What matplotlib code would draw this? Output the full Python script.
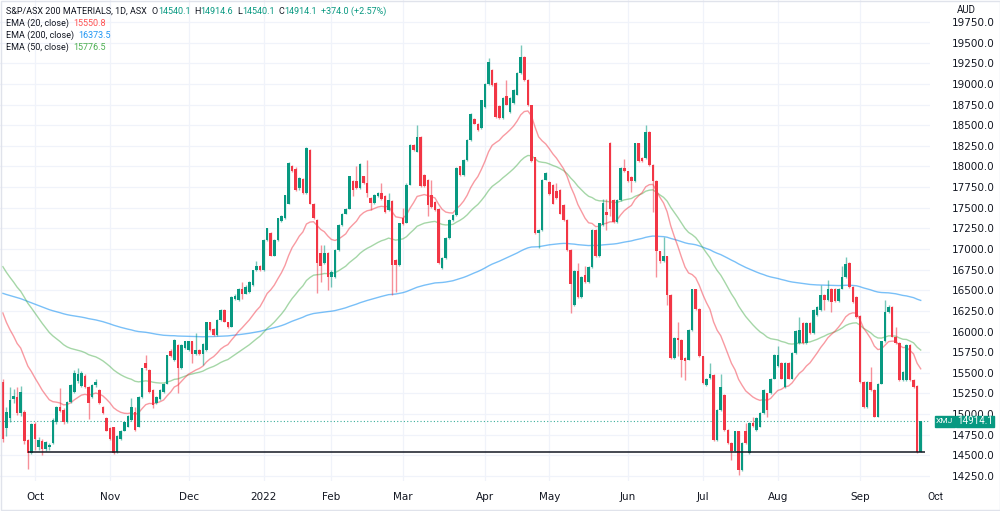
import numpy as np
import pandas as pd
import matplotlib
matplotlib.use("Agg")
import matplotlib.pyplot as plt
from matplotlib.patches import Rectangle
from matplotlib.transforms import blended_transform_factory

# --- Data: S&P/ASX 200 Materials (XMJ), daily, 20 Sep 2021 - 27 Sep 2022 ---
asx_holidays = ["2021-12-27", "2021-12-28", "2022-01-03", "2022-01-26", "2022-04-15",
                "2022-04-18", "2022-04-25", "2022-06-13", "2022-09-22"]
dates = pd.bdate_range("2021-09-20", "2022-09-27")
dates = dates[~dates.isin(pd.to_datetime(asx_holidays))]

opens = [
    15390, 14830, 14950, 15180, 15210, 15010, 15030, 14690, 14530, 14880,
    14600, 14680, 14580, 14600, 14650, 14900, 15090, 15050, 14900, 15150,
    15270, 15400, 15340, 15460, 15330, 15210, 15350, 15290, 15090, 14950,
    14830, 14840, 14540, 14700, 14800, 14850, 14930, 15030, 14850, 15210,
    15620, 15540, 15290, 15130, 15180, 15270, 15370, 15760, 15650, 15840,
    15560, 15800, 15780, 15880, 15730, 15780, 15730, 15780, 16110, 16030,
    15960, 16140, 16260, 16110, 16060, 16390, 16380, 16520, 16460, 16480,
    16560, 16740, 16800, 16740, 17110, 17190, 16920, 17110, 17340, 17370,
    17550, 18010, 17970, 17735, 17850, 17680, 18200, 17550, 17350, 16950,
    16830, 16950, 16660, 16660, 16990, 17290, 17430, 17490, 17820, 17820,
    17740, 17880, 17800, 17620, 17560, 17640, 17680, 17640, 17470, 17580,
    16870, 16810, 17380, 17320, 17780, 18260, 18180, 18360, 17900, 17840,
    17650, 17570, 17490, 16770, 16890, 17130, 17350, 17410, 18000, 17900,
    18080, 18320, 18580, 18520, 18460, 18720, 19000, 19170, 19010, 18730,
    18590, 18850, 18660, 18770, 18870, 19130, 19330, 19050, 18740, 18110,
    17190, 17230, 17840, 17810, 17780, 17700, 17720, 17530, 17350, 16990,
    16320, 16730, 16420, 16680, 16600, 16780, 17230, 16910, 17290, 17450,
    18290, 17590, 17330, 17590, 17980, 17940, 17870, 17820, 18280, 18100,
    18100, 18420, 18020, 17820, 16970, 16850, 16910, 16440, 15680, 15920,
    15900, 15680, 15660, 16020, 16510, 16270, 15700, 15350, 15440, 15470,
    14690, 15050, 15230, 14810, 14650, 14550, 14790, 14320, 14800, 14530,
    14890, 14810, 14850, 15010, 15250, 15250, 15430, 15580, 15620, 15330,
    15620, 15430, 15740, 15860, 16100, 15860, 16100, 15980, 16200, 16260,
    16440, 16380, 16520, 16520, 16370, 16520, 16660, 16830, 16540, 16420,
    16190, 15390, 15090, 15390, 15290, 14970, 15370, 15880, 16240, 16300,
    15940, 15860, 15410, 15410, 15840, 15410, 15340, 14540.1,
]
highs = [
    15420, 15090, 15330, 15300, 15330, 15340, 15050, 14700, 14890, 14900,
    14720, 14700, 14680, 14650, 14950, 15100, 15320, 15070, 15160, 15360,
    15540, 15560, 15520, 15480, 15340, 15370, 15420, 15300, 15100, 14960,
    14840, 14850, 14750, 14810, 14910, 14990, 15190, 15090, 15220, 15560,
    15720, 15550, 15300, 15220, 15300, 15380, 15720, 15790, 15910, 15850,
    15850, 15890, 15890, 15890, 15980, 15790, 15860, 16120, 16120, 16040,
    16150, 16270, 16270, 16120, 16430, 16460, 16530, 16600, 16570, 16610,
    16750, 16860, 16810, 17120, 17260, 17200, 17120, 17380, 17410, 17660,
    18050, 18020, 17990, 17870, 17860, 18240, 18210, 17560, 17360, 17050,
    17050, 16960, 16740, 17000, 17300, 17440, 17500, 17890, 17830, 18010,
    18040, 17890, 18080, 17630, 17670, 17690, 17800, 17650, 17680, 17590,
    16880, 17320, 17500, 17800, 18270, 18270, 18500, 18370, 17910, 17850,
    17840, 17580, 17500, 16900, 17140, 17360, 17420, 17990, 18010, 18090,
    18330, 18650, 18590, 18530, 18810, 19010, 19310, 19180, 19020, 18740,
    18840, 19050, 18840, 18940, 19140, 19470, 19340, 19060, 18750, 18120,
    17240, 17850, 17930, 17820, 17790, 17800, 17730, 17540, 17360, 17000,
    16740, 16830, 16670, 16800, 16790, 17240, 17240, 17320, 17600, 17600,
    18300, 17600, 17600, 17990, 18090, 17950, 17880, 18290, 18290, 18110,
    18500, 18430, 18030, 17830, 16980, 17150, 16920, 16450, 15930, 16120,
    15910, 15690, 16030, 16520, 16520, 16280, 15710, 15440, 15620, 15480,
    15060, 15490, 15240, 14820, 14660, 14800, 14800, 14660, 14890, 14900,
    14960, 14960, 15020, 15300, 15260, 15440, 15730, 15820, 15630, 15630,
    15630, 15750, 16020, 16180, 16110, 16110, 16110, 16270, 16310, 16560,
    16450, 16620, 16530, 16530, 16530, 16790, 16900, 16840, 16550, 16430,
    16200, 15400, 15400, 15570, 15300, 15380, 15890, 16380, 16320, 16310,
    16060, 15870, 15520, 15850, 15850, 15420, 15350, 14914.6,
]
lows = [
    14660, 14740, 14900, 15130, 14990, 14980, 14640, 14330, 14520, 14560,
    14560, 14500, 14550, 14560, 14640, 14880, 15030, 14880, 14890, 15140,
    15260, 15380, 15330, 15320, 14940, 15200, 15330, 15120, 15000, 14790,
    14690, 14520, 14530, 14690, 14790, 14840, 14920, 14800, 14840, 15200,
    15540, 15260, 15080, 15120, 15170, 15260, 15360, 15690, 15640, 15250,
    15550, 15790, 15770, 15620, 15720, 15720, 15600, 15770, 16010, 15950,
    15950, 16130, 16110, 16040, 16050, 16380, 16370, 16400, 16450, 16470,
    16550, 16730, 16730, 16730, 17100, 16910, 16910, 17100, 17330, 17360,
    17540, 17930, 17700, 17720, 17670, 17670, 17540, 17360, 16470, 16600,
    16820, 16500, 16540, 16650, 16980, 17280, 17420, 17480, 17640, 17730,
    17730, 17790, 17630, 17470, 17550, 17630, 17590, 17440, 17460, 16440,
    16480, 16800, 17290, 17310, 17770, 18190, 18170, 17750, 17750, 17400,
    17500, 17460, 16820, 16760, 16880, 17120, 17340, 17400, 17890, 17890,
    18070, 18310, 18510, 18430, 18450, 18710, 18990, 18980, 18590, 18580,
    18580, 18740, 18650, 18760, 18860, 19120, 19040, 18730, 18050, 17180,
    17010, 17220, 17830, 17660, 17540, 17610, 17420, 17340, 16980, 16220,
    16310, 16410, 16410, 16590, 16590, 16770, 16900, 16900, 17280, 17230,
    17400, 17320, 17320, 17580, 17930, 17810, 17690, 17810, 18050, 18050,
    18090, 18010, 17450, 16660, 16830, 16840, 16320, 15670, 15670, 15700,
    15450, 15410, 15650, 16010, 16260, 15690, 15370, 15340, 15430, 14680,
    14680, 15040, 14800, 14640, 14440, 14540, 14260, 14310, 14640, 14520,
    14850, 14800, 14840, 15000, 14970, 15240, 15420, 15570, 15420, 15320,
    15420, 15420, 15730, 15850, 15850, 15850, 15970, 15970, 16190, 16250,
    16260, 16370, 16240, 16360, 16360, 16510, 16650, 16530, 16350, 16170,
    15380, 15080, 15080, 15280, 14960, 14960, 15360, 15870, 16230, 15930,
    15850, 15400, 15400, 15400, 15400, 15320, 14530, 14540.1,
]
closes = [
    14700, 15030, 15170, 15215, 15010, 15270, 14670, 14530, 14880, 14700,
    14690, 14580, 14660, 14630, 14930, 15090, 15040, 14900, 15150, 15350,
    15500, 15480, 15500, 15330, 15130, 15350, 15390, 15130, 15010, 14800,
    14700, 14530, 14740, 14800, 14900, 14980, 15090, 14810, 15210, 15555,
    15560, 15270, 15110, 15210, 15290, 15370, 15716, 15700, 15900, 15560,
    15840, 15880, 15880, 15730, 15780, 15730, 15850, 16110, 16020, 15960,
    16140, 16260, 16120, 16050, 16420, 16430, 16520, 16460, 16540, 16600,
    16740, 16800, 16740, 17110, 17250, 16920, 17110, 17370, 17400, 17650,
    18040, 17940, 17710, 17855, 17680, 18220, 17550, 17370, 16830, 16800,
    16950, 16660, 16720, 16990, 17290, 17430, 17490, 17880, 17720, 17740,
    18030, 17800, 17680, 17560, 17660, 17680, 17600, 17450, 17590, 16810,
    16810, 17310, 17300, 17780, 18260, 18200, 18360, 17760, 17760, 17530,
    17510, 17470, 16830, 16890, 17130, 17350, 17410, 17980, 17900, 18080,
    18320, 18640, 18520, 18440, 18800, 19000, 19260, 18990, 18600, 18590,
    18830, 18750, 18830, 18930, 19130, 19330, 19050, 18740, 18060, 17190,
    17230, 17840, 17920, 17670, 17550, 17620, 17430, 17350, 16990, 16580,
    16730, 16420, 16660, 16600, 16780, 17230, 16910, 17310, 17560, 17410,
    17490, 17330, 17590, 17980, 17940, 17820, 17820, 18280, 18060, 18060,
    18420, 18020, 17820, 16970, 16850, 16920, 16440, 15680, 15920, 15900,
    15660, 15640, 16020, 16510, 16270, 15700, 15380, 15430, 15480, 14690,
    15050, 15330, 14810, 14650, 14550, 14790, 14320, 14650, 14650, 14890,
    14860, 14950, 15010, 15290, 15050, 15430, 15720, 15720, 15430, 15620,
    15430, 15740, 16010, 16020, 15860, 16100, 15980, 16260, 16300, 16440,
    16380, 16520, 16360, 16370, 16520, 16660, 16820, 16540, 16360, 16180,
    15390, 15090, 15390, 15290, 14970, 15370, 15880, 16240, 16300, 15940,
    15860, 15410, 15510, 15840, 15410, 15330, 14540, 14914.1,
]

# EMA values at the left edge of the view (history before 20 Sep 2021)
ema_seeds = {20: 16225, 50: 16786, 200: 16463}
legend_ema = [("EMA (20, close)", "15550.8", "#ff5252"),
              ("EMA (200, close)", "16373.5", "#2196f3"),
              ("EMA (50, close)", "15776.5", "#4caf50")]
support_level = 14540
last_close = 14914.1

UP = "#089981"
DOWN = "#f23645"
TEXT = "#131722"
GRID = "#f0f3fa"


def ema(values, span, seed):
    alpha = 2.0 / (span + 1)
    out = [seed]
    for v in values[1:]:
        out.append(alpha * v + (1 - alpha) * out[-1])
    return np.array(out)


o = np.array(opens)
h = np.array(highs)
l = np.array(lows)
c = np.array(closes)
assert len(dates) == len(c)
idx = np.arange(len(c))

fig = plt.figure(figsize=(10, 5.11), dpi=100)
ax = fig.add_axes([0, 30 / 511, 0.93, 481 / 511])
plt.rcParams["font.family"] = ["Roboto", "DejaVu Sans"]

# grid
month_pos = [i for i in range(1, len(dates)) if dates[i].month != dates[i - 1].month]
month_lbl = ["2022" if dates[i].month == 1 else dates[i].strftime("%b") for i in month_pos]
for p in month_pos + [len(c) + 3]:
    ax.axvline(p, color=GRID, lw=0.9, zorder=0)
yticks = np.arange(14250, 19751, 250)
for y in yticks:
    ax.axhline(y, color=GRID, lw=0.9, zorder=0)

# EMAs
ax.plot(idx, ema(c, 200, ema_seeds[200]), color="#2196f3", alpha=0.6, lw=1.0, zorder=2)
ax.plot(idx, ema(c, 50, ema_seeds[50]), color="#4caf50", alpha=0.5, lw=1.0, zorder=2)
ax.plot(idx, ema(c, 20, ema_seeds[20]), color="#f23645", alpha=0.5, lw=1.0, zorder=2)

# candles
colors = np.where(c >= o, UP, DOWN)
ax.vlines(idx, l, h, colors=colors, lw=1.0, alpha=0.55, zorder=3)
body_lo = np.minimum(o, c)
body_h = np.maximum(np.abs(c - o), 12)
ax.bar(idx, body_h, bottom=body_lo, width=0.7, color=colors, lw=0, zorder=4)

# horizontal line at the low + last price line
ax.hlines(support_level, 7.1, 258.2, color=TEXT, lw=1.1, zorder=5)
ax.axhline(last_close, color=UP, lw=0.8, ls=(0, (1, 2)), alpha=0.8, zorder=1)

ax.set_xlim(-0.8, 259.6)
ax.set_ylim(14190, 20016)
for s in ax.spines.values():
    s.set_visible(False)

ax.yaxis.tick_right()
ax.set_yticks(yticks)
ax.set_yticklabels([f"{v:.1f}" for v in yticks])
ax.tick_params(axis="y", length=0, pad=16, labelsize=7.5, labelcolor=TEXT)
ax.set_xticks(month_pos)
ax.set_xticklabels(month_lbl)
ax.tick_params(axis="x", length=0, pad=8, labelsize=7.5, labelcolor=TEXT)
ax.grid(False)

# Oct 2022 label sits under the price scale
fig.text(935 / 1000, 1 - 497 / 511, "Oct", ha="center", va="center", fontsize=7.5, color=TEXT)
fig.text(957 / 1000, 1 - 10 / 511, "AUD", ha="left", va="center", fontsize=7, color=TEXT)

# price label boxes
trans_y = blended_transform_factory(fig.transFigure, ax.transData)
box_h = 11 * 12.114
ax.add_artist(Rectangle((935 / 1000, last_close - box_h / 2), 19.5 / 1000, box_h,
                        transform=trans_y, color=UP, clip_on=False, zorder=6))
ax.add_artist(Rectangle((956 / 1000, last_close - box_h / 2), 38 / 1000, box_h,
                        transform=trans_y, color=UP, clip_on=False, zorder=6))
ax.text(944.75 / 1000, last_close, "XMJ", transform=trans_y, ha="center", va="center",
        fontsize=6, color="white", clip_on=False, zorder=7)
ax.text(975 / 1000, last_close, f"{last_close:.1f}", transform=trans_y, ha="center",
        va="center", fontsize=7, color="white", clip_on=False, zorder=7)

# legend rows drawn piece by piece
renderer = fig.canvas.get_renderer()


def text_row(parts, x_px, y_px, size=6.5):
    x = x_px / 1000
    for txt, col, gap in parts:
        t = fig.text(x, 1 - y_px / 511, txt, color=col, fontsize=size, ha="left", va="center")
        x = t.get_window_extent(renderer).x1 / 1000 + gap / 1000


text_row([("S&P/ASX 200 MATERIALS, 1D, ASX", TEXT, 5),
          ("O", TEXT, 0), ("14540.1", UP, 4),
          ("H", TEXT, 0), ("14914.6", UP, 4),
          ("L", TEXT, 0), ("14540.1", UP, 4),
          ("C", TEXT, 0), ("14914.1", UP, 4),
          ("+374.0 (+2.57%)", UP, 0)], 6, 11)
for row, (name, val, col) in enumerate(legend_ema):
    text_row([(name, TEXT, 4), (val, col, 0)], 6, 23 + row * 12)

# thin frame round the whole picture
fig.add_artist(Rectangle((0.0005, 0.001), 0.999, 0.998, transform=fig.transFigure,
                         fill=False, ec="#e0e3eb", lw=1))

fig.savefig("out.png", dpi=100, facecolor="white")
